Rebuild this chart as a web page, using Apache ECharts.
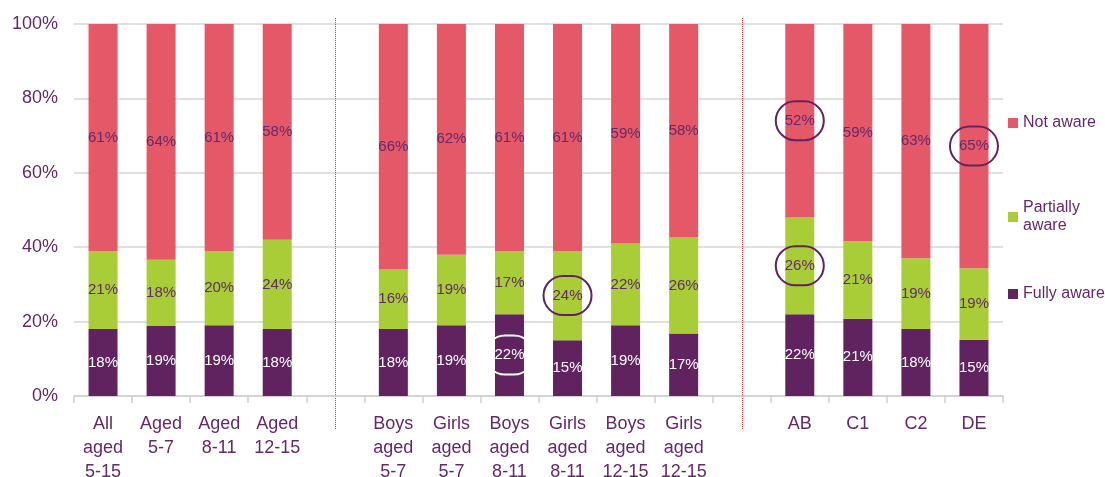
<!DOCTYPE html>
<html>
<head>
<meta charset="utf-8">
<script src="https://cdn.jsdelivr.net/npm/echarts@6/dist/echarts.min.js"></script>
<style>
  html, body { margin: 0; padding: 0; background: #fff; }
  #main { width: 1105px; height: 477px; }
</style>
</head>
<body>
<div id="main"></div>
<script>
// categories ('' and ' ' are the gaps between the groups)
var categories = [
  'All\naged\n5-15', 'Aged\n5-7', 'Aged\n8-11', 'Aged\n12-15', '',
  'Boys\naged\n5-7', 'Girls\naged\n5-7', 'Boys\naged\n8-11', 'Girls\naged\n8-11', 'Boys\naged\n12-15', 'Girls\naged\n12-15', ' ',
  'AB', 'C1', 'C2', 'DE'
];
var fullyAware     = [18, 19, 19, 18, null, 18, 19, 22, 15, 19, 17, null, 22, 21, 18, 15];
var partiallyAware = [21, 18, 20, 24, null, 16, 19, 17, 24, 22, 26, null, 26, 21, 19, 19];
var notAware       = [61, 64, 61, 58, null, 66, 62, 61, 61, 59, 58, null, 52, 59, 63, 65];
var yTicks = [0, 20, 40, 60, 80, 100];

// labels that are ringed in the original
var ringedNot     = ['AB', 'DE'];
var ringedPartial = ['Girls\naged\n8-11', 'AB'];
var ringedFully   = ['Boys\naged\n8-11'];

var purple = '#612360';
var green = '#a8cd36';
var red = '#e55867';
var textPurple = '#65286a';
var font = '"Liberation Sans", Arial, sans-serif';

var chart = echarts.init(document.getElementById('main'));

// bars are drawn as shares of 100% (rounded labels do not always add to 100)
function build(raw, ringed, ringColor) {
  return raw.map(function (v, i) {
    if (v == null) return { value: null };
    var total = fullyAware[i] + partiallyAware[i] + notAware[i];
    var item = { value: v / total * 100, raw: v };
    if (ringed.indexOf(categories[i]) >= 0) {
      item.label = {
        borderColor: ringColor,
        borderWidth: 2,
        borderRadius: 21,
        padding: [12, 9]
      };
    }
    return item;
  });
}

function labelText(p) {
  return p.data.raw == null ? '' : p.data.raw + '%';
}

var baseLabel = {
  show: true,
  position: 'inside',
  fontFamily: font,
  fontSize: 15,
  formatter: labelText
};

var option = {
  animation: false,
  grid: { left: 74, right: 102, top: 24, bottom: 81, outerBoundsMode: 'none', containLabel: false },
  legend: [
    { data: ['Not aware'], left: 1008, top: 114 },
    { data: ['Partially aware'], left: 1008, top: 199 },
    { data: ['Fully aware'], left: 1008, top: 285 }
  ].map(function (l) {
    l.orient = 'vertical';
    l.padding = 0;
    l.icon = 'rect';
    l.itemWidth = 10;
    l.itemHeight = 10;
    l.itemGap = 5;
    l.selectedMode = false;
    l.formatter = function (n) { return n === 'Partially aware' ? 'Partially\naware' : n; };
    l.textStyle = { color: textPurple, fontFamily: font, fontSize: 16, lineHeight: 18 };
    return l;
  }),
  xAxis: {
    type: 'category',
    data: categories,
    axisLine: { lineStyle: { color: '#cfcfcf', width: 1.5 } },
    axisTick: { show: true, length: 7, lineStyle: { color: '#cfcfcf', width: 1.5 } },
    axisLabel: {
      interval: 0,
      margin: 16,
      color: textPurple,
      fontFamily: font,
      fontSize: 18,
      lineHeight: 24
    }
  },
  yAxis: {
    type: 'value',
    min: yTicks[0],
    max: yTicks[yTicks.length - 1],
    interval: yTicks[1] - yTicks[0],
    axisLine: { show: false },
    axisTick: { show: false },
    splitLine: { lineStyle: { color: '#d6d6d6', width: 1.5 } },
    axisLabel: {
      margin: 16,
      color: textPurple,
      fontFamily: font,
      fontSize: 18,
      formatter: '{value}%'
    }
  },
  series: [
    {
      name: 'Fully aware',
      type: 'bar',
      stack: 'all',
      barWidth: 29,
      itemStyle: { color: purple },
      label: Object.assign({}, baseLabel, { color: '#ffffff' }),
      data: build(fullyAware, ringedFully, '#ffffff')
    },
    {
      name: 'Partially aware',
      type: 'bar',
      stack: 'all',
      barWidth: 29,
      itemStyle: { color: green },
      label: Object.assign({}, baseLabel, { color: textPurple }),
      data: build(partiallyAware, ringedPartial, purple)
    },
    {
      name: 'Not aware',
      type: 'bar',
      stack: 'all',
      barWidth: 29,
      itemStyle: { color: red },
      label: Object.assign({}, baseLabel, { color: textPurple }),
      data: build(notAware, ringedNot, purple)
    }
  ]
};

chart.setOption(option);

// dotted red separators in the two gap columns
var seps = [categories.indexOf(''), categories.indexOf(' ')].map(function (idx) {
  var x = Math.round(chart.convertToPixel({ xAxisIndex: 0 }, idx)) + 0.5;
  return {
    type: 'line',
    shape: { x1: x, y1: 18, x2: x, y2: 429 },
    style: { stroke: '#e0393f', lineWidth: 1, lineDash: [1, 1] },
    silent: true
  };
});
chart.setOption({ graphic: seps });
</script>
</body>
</html>
